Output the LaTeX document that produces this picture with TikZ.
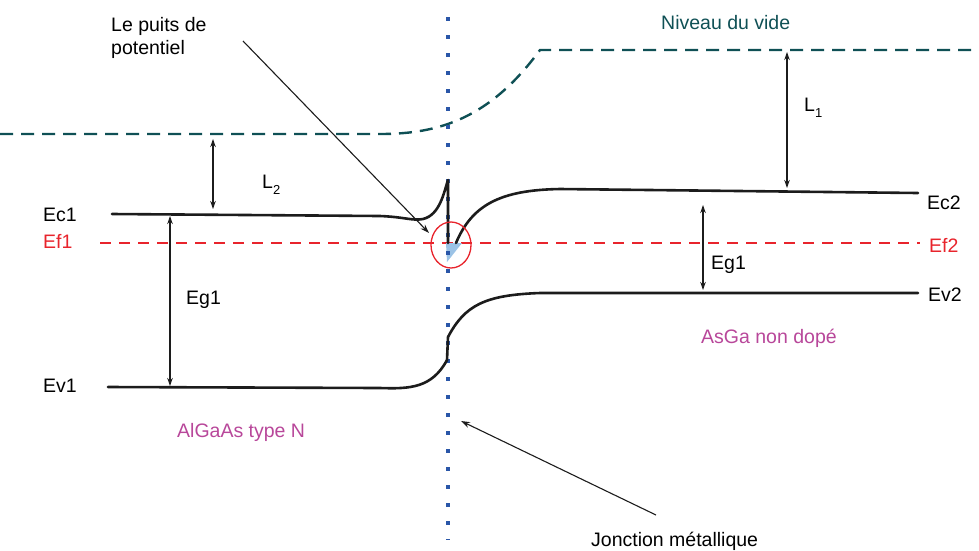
\documentclass[tikz,border=0pt]{standalone}
\usepackage{fontspec}
\setmainfont{Liberation Sans}
\usetikzlibrary{arrows.meta}
\definecolor{bandc}{HTML}{1C1C1C}
\definecolor{vacc}{HTML}{0F5055}
\definecolor{fermic}{HTML}{E8242C}
\definecolor{magc}{HTML}{B8479A}
\definecolor{dotc}{HTML}{2A56A8}
\definecolor{wellc}{HTML}{9CC3E6}
\begin{document}
\begin{tikzpicture}[x=1pt,y=-1pt,
  lbl/.style={font=\fontsize{19.5}{23}\selectfont, inner sep=0pt, anchor=west},
  band/.style={line width=2.6pt, draw=bandc, line cap=round, line join=round},
  vac/.style={line width=2.4pt, draw=vacc, dash pattern=on 13pt off 8pt},
  fermi/.style={line width=2.4pt, draw=fermic, dash pattern=on 11pt off 8pt},
  gap/.style={line width=1.1pt, draw=bandc, {Stealth[length=8pt,width=5.5pt]}-{Stealth[length=8pt,width=5.5pt]}},
  pointer/.style={line width=1.1pt, draw=bandc, -{Stealth[length=9pt,width=6pt]}}]
\useasboundingbox (0,0) rectangle (979,550);
% vacuum level
\draw[vac] (0,134) -- (380,134) .. controls (440,134) and (490,118) .. (540,50) -- (979,50);
% Fermi level
\draw[fermi] (100,243) -- (920,243);
% well triangle
\fill[wellc] (446,243) -- (462,243) -- (447,262) -- cycle;
% junction dotted line
\draw[dotc, line width=4pt, dash pattern=on 4pt off 14pt] (448,17) -- (448,540);
% conduction band
\draw[band] (112,214) -- (380,216) .. controls (405,217) and (412,221) .. (423,219) .. controls (440,215) and (444,192) .. (448,180) -- (448,243);
\draw[band] (456,243) .. controls (472,205) and (500,190) .. (560,189) -- (918,193);
% valence band
\draw[band] (108,387) -- (380,388) .. controls (410,389) and (432,388) .. (447,360) -- (448,337) .. controls (465,305) and (485,295) .. (540,293) -- (918,293);
% red circle
\draw[fermic, line width=1.3pt] (451,245) ellipse [x radius=20, y radius=23];
% gap arrows
\coordinate (l2t) at (213,139); \coordinate (l2b) at (213,209);
\coordinate (l1t) at (787,52); \coordinate (l1b) at (787,188);
\coordinate (g1t) at (170,216); \coordinate (g1b) at (170,386);
\coordinate (g2t) at (703,205); \coordinate (g2b) at (703,290);
\draw[gap] (l2t) -- (l2b);
\draw[gap] (l1t) -- (l1b);
\draw[gap] (g1t) -- (g1b);
\draw[gap] (g2t) -- (g2b);
% labels
\node[lbl, align=left, font=\fontsize{19.5}{23}\selectfont] (puits) at (111,38) {Le puits de\\potentiel};
\node[lbl, text=vacc] (vide) at (661,23) {Niveau du vide};
\node[lbl] (L1) at (804,108) {L\raisebox{-6pt}{\fontsize{13}{14}\selectfont 1}};
\node[lbl] (L2) at (262,185) {L\raisebox{-6pt}{\fontsize{13}{14}\selectfont 2}};
\node[lbl] (ec1) at (43,215) {Ec1};
\node[lbl, text=fermic] (ef1) at (43,241) {Ef1};
\node[lbl] (ev1) at (43,386) {Ev1};
\node[lbl] (eg1a) at (186,300) {Eg1};
\node[lbl] (eg1b) at (711,265) {Eg1};
\node[lbl] (ec2) at (927,203) {Ec2};
\node[lbl, text=fermic] (ef2) at (929,245) {Ef2};
\node[lbl] (ev2) at (928,295) {Ev2};
\node[lbl, text=magc] (asga) at (701,338) {AsGa non dopé};
\node[lbl, text=magc] (algaas) at (177,432) {AlGaAs type N};
\node[lbl] (jonc) at (591,541) {Jonction métallique};
% pointers
\coordinate (ps) at (243,41); \coordinate (pe) at (429,233);
\coordinate (js) at (656,515); \coordinate (je) at (461,421);
\draw[pointer] (ps) -- (pe);
\draw[pointer] (js) -- (je);
\end{tikzpicture}
\end{document}
